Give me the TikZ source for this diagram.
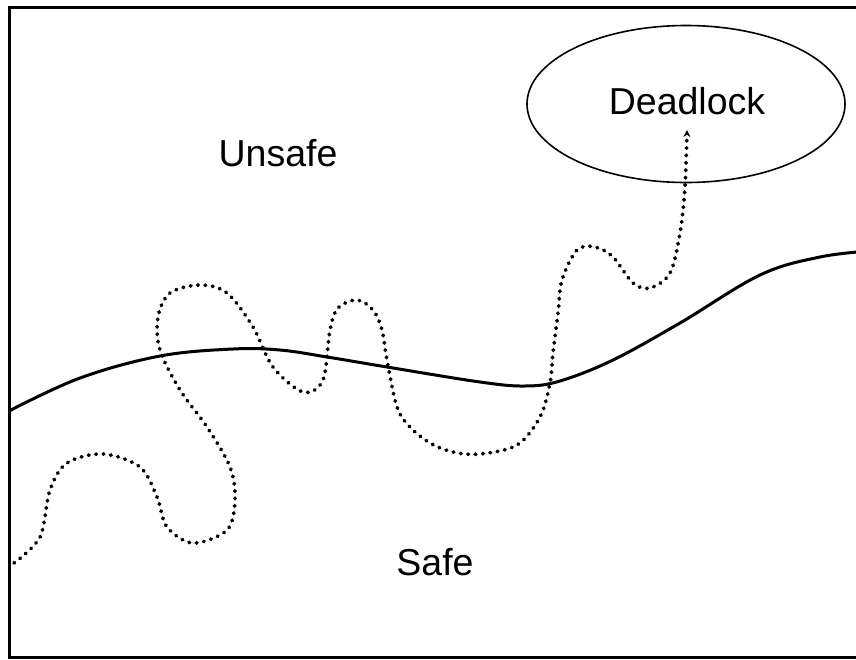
\documentclass[tikz,border=0pt]{standalone}
\usepackage{fontspec}
\setmainfont{Liberation Sans}
\usetikzlibrary{arrows.meta,shapes.geometric}
\begin{document}
\begin{tikzpicture}[x=1pt,y=-1pt,
  frame/.style={line width=3pt},
  boundary/.style={line width=3pt},
  trace/.style={line width=3.8pt, dash pattern=on 0.6pt off 6.8pt, line cap=round},
  lbl/.style={font=\fontsize{37.5}{40}\selectfont, inner sep=0pt},
  goal/.style={draw, ellipse, line width=1.6pt, minimum width=318pt, minimum height=157pt, inner sep=0pt}]
\useasboundingbox (0,0) rectangle (856,659);
\clip (0,0) rectangle (856,659);
\draw[frame] (870,7) -- (9,7) -- (9,657) -- (870,657);
\node[goal] (dl) at (686,104) {};
\node[lbl] (dltext) at (687,101) {Deadlock};
\node[lbl] (unsafe) at (278,153) {Unsafe};
\node[lbl] (safe) at (435,562) {Safe};
\draw[boundary] plot[smooth, tension=0.6] coordinates {(9,411) (80,378) (160,356) (233,349) (280,350) (327,357) (387,367) (480,382) (525,386) (560,381) (613,360) (680,323) (760,275) (820,257) (870,251)};
\coordinate (start) at (14,563);
\coordinate (tip) at (687,130);
\draw[trace, -{Stealth[length=7pt,width=7pt]}] plot[smooth, tension=0.55] coordinates {(start) (40,537) (50,490) (67,463) (103,454) (140,467) (157,497) (167,527) (193,543) (227,530) (235,500) (230,467) (207,427) (180,390) (160,350) (158,317) (170,293) (200,285) (227,293) (253,327) (273,367) (303,392) (323,380) (330,330) (338,308) (357,300) (373,310) (382,330) (387,360) (397,407) (410,427) (430,443) (453,452) (480,454) (517,445) (540,417) (550,383) (553,353) (558,313) (562,280) (577,250) (595,247) (613,257) (633,283) (650,288) (670,273) (680,233) (685,187) (tip)};
\end{tikzpicture}
\end{document}
